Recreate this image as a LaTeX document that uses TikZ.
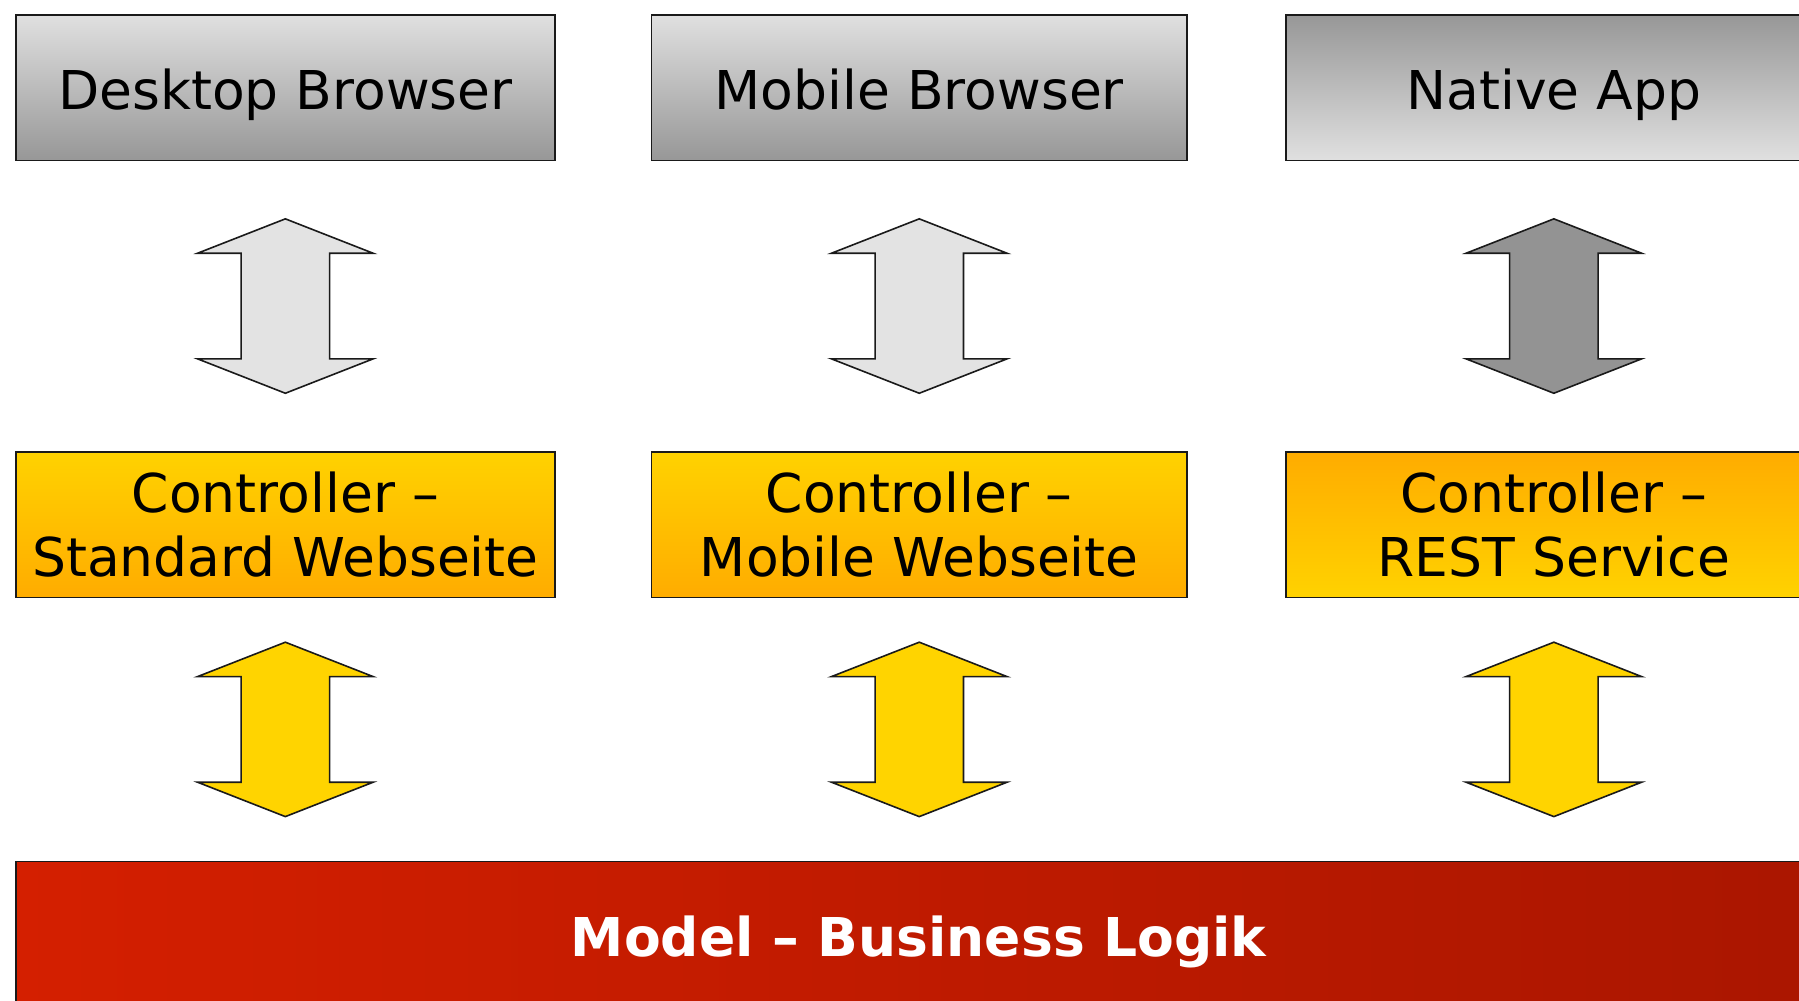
\documentclass[tikz,border=0pt]{standalone}
\usepackage{fontspec}
\setmainfont{DejaVu Sans}
\usetikzlibrary{calc}
\definecolor{grayLight}{HTML}{E0E0E0}
\definecolor{grayDark}{HTML}{979797}
\definecolor{yelTop}{HTML}{FFD200}
\definecolor{yelBot}{HTML}{FFAC00}
\definecolor{redL}{HTML}{D41F00}
\definecolor{redR}{HTML}{AA1600}
\definecolor{arrLight}{HTML}{E3E3E3}
\definecolor{arrDark}{HTML}{939393}
\definecolor{arrYel}{HTML}{FFD400}
\definecolor{edge}{HTML}{1A1A1A}
\begin{document}
\begin{tikzpicture}[x=1pt,y=-1pt,
  box/.style={draw=edge, line width=1.7pt, inner sep=0pt, align=center,
    minimum height=145.7pt, anchor=north west,
    font=\fontsize{53.5}{64}\selectfont},
  oneline/.style={text height=50pt, text depth=6pt},
  clientbox/.style={box, oneline, top color=grayLight, bottom color=grayDark},
  appbox/.style={box, oneline, top color=grayDark, bottom color=grayLight},
  ctrlbox/.style={box, top color=yelTop, bottom color=yelBot},
  restbox/.style={box, top color=yelBot, bottom color=yelTop},
  modelbox/.style={draw=edge, line width=1.7pt, inner sep=0pt, anchor=north west,
    left color=redL, right color=redR, text=white,
    minimum width=1806pt, minimum height=149pt,
    text height=42pt, text depth=0pt,
    font=\fontsize{53.5}{64}\selectfont\bfseries},
  pics/dblarrow/.style={code={
    \draw[draw=edge, line width=1.6pt, line join=miter, fill=#1]
      (0,-87.2) -- (87.8,-52.8) -- (44.2,-52.8) -- (44.2,52.8) -- (87.8,52.8)
      -- (0,87.2) -- (-87.8,52.8) -- (-44.2,52.8) -- (-44.2,-52.8)
      -- (-87.8,-52.8) -- cycle;}}
]
\useasboundingbox (0,0) rectangle (1799,1001);
\clip (0,0) rectangle (1799,1001);
\fill[white] (0,0) rectangle (1799,1001);

\node[clientbox, minimum width=539.2pt] (d1) at (14.9,13.8) {Desktop Browser};
\node[clientbox, minimum width=535.8pt] (d2) at (650.5,13.8) {Mobile Browser};
\node[appbox,    minimum width=536pt]   (d3) at (1285,13.8) {Native App};

\node[ctrlbox, minimum width=539.2pt] (c1) at (14.9,450.9) {Controller –\\Standard Webseite};
\node[ctrlbox, minimum width=535.8pt] (c2) at (650.5,450.9) {Controller –\\Mobile Webseite};
\node[restbox, minimum width=536pt]   (c3) at (1285,450.9) {Controller –\\REST Service};

\node[modelbox] (m) at (14.9,860.5) {Model – Business Logik};

\path ($(d1.south)!0.5!(c1.north)$) pic {dblarrow=arrLight};
\path ($(d2.south)!0.5!(c2.north)$) pic {dblarrow=arrLight};
\path ($(d3.south)!0.5!(c3.north)$) pic {dblarrow=arrDark};

\path ($(c1.south)!0.5!(c1.south |- m.north)$) pic {dblarrow=arrYel};
\path ($(c2.south)!0.5!(c2.south |- m.north)$) pic {dblarrow=arrYel};
\path ($(c3.south)!0.5!(c3.south |- m.north)$) pic {dblarrow=arrYel};
\end{tikzpicture}
\end{document}
